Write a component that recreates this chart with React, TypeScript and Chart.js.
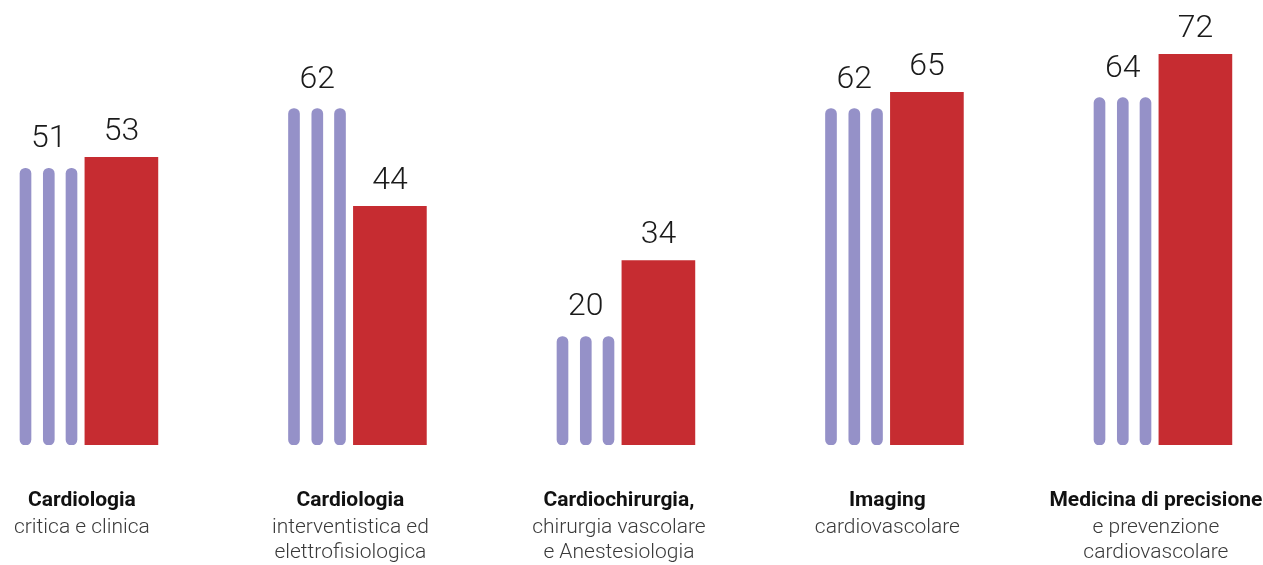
import React, { useEffect, useRef } from "react";
import { Chart, registerables } from "chart.js";

Chart.register(...registerables);

const titleLines = ["Cardiologia", "Cardiologia", "Cardiochirurgia,", "Imaging", "Medicina di precisione"];
const subLines = [
  ["critica e clinica"],
  ["interventistica ed", "elettrofisiologica"],
  ["chirurgia vascolare", "e Anestesiologia"],
  ["cardiovascolare"],
  ["e prevenzione", "cardiovascolare"],
];
const purpleValues = [51, 62, 20, 62, 64];
const redValues = [53, 44, 34, 65, 72];

const PURPLE = "#9591c8";
const RED = "#c62c31";

// layout (pixels)
const UNIT_PX = 268.5;
const FIRST_LABEL_PX = 81.9;
const WIDTH = 1263;
const HEIGHT = 565;
const redOffsetPx = 39.5;
const purpleOffsetsPx = [-56.4, -33.1, -10.4];

const toUnits = (px: number) => px / UNIT_PX;

const valueLabels = {
  id: "valueLabels",
  afterDatasetsDraw(chart: any) {
    const ctx = chart.ctx;
    ctx.save();
    ctx.font = "300 32px Roboto";
    ctx.fillStyle = "#1a1a1a";
    ctx.textAlign = "center";
    ctx.textBaseline = "alphabetic";
    chart.data.datasets.forEach((ds: any, di: number) => {
      if (!ds.showValue) return;
      const meta = chart.getDatasetMeta(di);
      meta.data.forEach((el: any, i: number) => {
        const v = ds.data[i].y;
        ctx.fillText(String(v), el.x, el.y - ds.labelGap);
      });
    });
    ctx.restore();
  },
};

export default function App() {
  const ref = useRef<HTMLCanvasElement>(null);

  useEffect(() => {
    if (!ref.current) return;
    const xMin = -FIRST_LABEL_PX / UNIT_PX;
    const xMax = xMin + WIDTH / UNIT_PX;

    const purpleSets = purpleOffsetsPx.map((off, k) => ({
      type: "bar" as const,
      data: purpleValues.map((v, i) => ({ x: i + toUnits(off), y: v })),
      backgroundColor: PURPLE,
      barThickness: 11,
      borderRadius: 5.5,
      borderSkipped: false,
      grouped: false,
      showValue: k === 1,
      labelGap: 21,
    }));
    const redSet = {
      type: "bar" as const,
      data: redValues.map((v, i) => ({ x: i + toUnits(redOffsetPx), y: v })),
      backgroundColor: RED,
      barThickness: 73,
      borderRadius: 0,
      grouped: false,
      showValue: true,
      labelGap: 17,
    };

    const fixedTicks = (scale: any) => {
      scale.ticks = titleLines.map((_, i) => ({ value: i }));
    };
    const fitTo = (h: number) => (s: any) => {
      s.height = h;
      s.paddingLeft = 0;
      s.paddingRight = 0;
    };

    const chart = new Chart(ref.current, {
      type: "bar",
      data: { datasets: [...purpleSets, redSet] as any },
      plugins: [valueLabels],
      options: {
        animation: false,
        responsive: true,
        maintainAspectRatio: false,
        layout: { padding: 0, autoPadding: false },
        plugins: { legend: { display: false }, tooltip: { enabled: false } },
        scales: {
          x: {
            type: "linear",
            position: "bottom",
            weight: 1,
            offset: false,
            min: xMin,
            max: xMax,
            grid: { display: false, drawTicks: false, offset: false },
            border: { display: false },
            afterBuildTicks: fixedTicks,
            afterFit: fitTo(70),
            ticks: {
              autoSkip: false,
              maxRotation: 0,
              minRotation: 0,
              padding: 43,
              color: "#111111",
              font: { family: "Roboto", size: 21, weight: "bold", lineHeight: 1.2 },
              callback: (v: any) => titleLines[Math.round(Number(v))] ?? "",
            },
          },
          x2: {
            type: "linear",
            position: "bottom",
            weight: 2,
            offset: false,
            min: xMin,
            max: xMax,
            grid: { display: false, drawTicks: false, offset: false },
            border: { display: false },
            afterBuildTicks: fixedTicks,
            afterFit: fitTo(50),
            ticks: {
              autoSkip: false,
              maxRotation: 0,
              minRotation: 0,
              padding: 0,
              color: "#3a3a3a",
              font: { family: "Roboto", size: 21, weight: "300", lineHeight: "25px" },
              callback: (v: any) => subLines[Math.round(Number(v))] ?? "",
            },
          },
          y: {
            display: false,
            min: 0,
            max: 82,
          },
        },
      } as any,
    });
    return () => chart.destroy();
  }, []);

  return (
    <div style={{ position: "fixed", left: 0, top: 0, width: WIDTH, height: HEIGHT, background: "#fff" }}>
      <canvas ref={ref} />
    </div>
  );
}
